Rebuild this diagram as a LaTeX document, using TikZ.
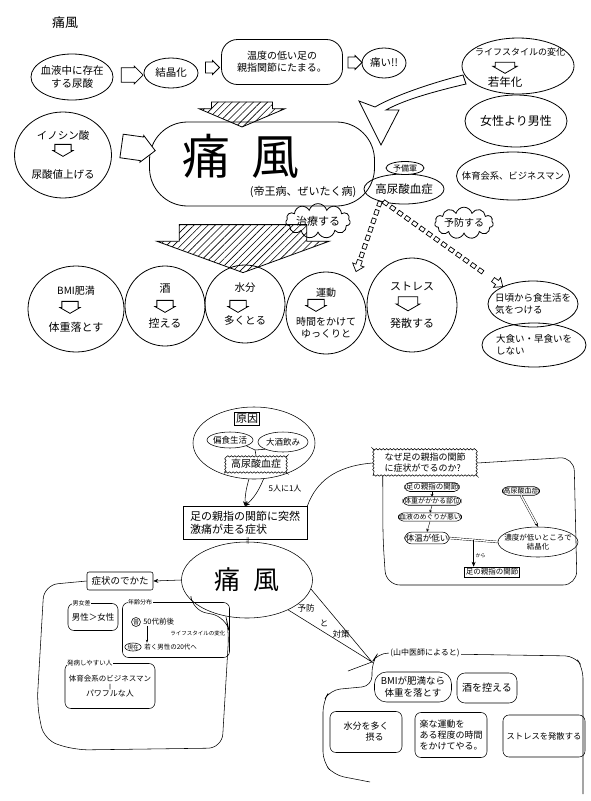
\documentclass[tikz,border=0pt]{standalone}
\usepackage{fontspec}
\setmainfont{Noto Sans CJK JP}
\usepackage{tikz}
\usetikzlibrary{positioning,arrows.meta,shapes.geometric,shapes.arrows,shapes.symbols,patterns.meta,decorations.markings,decorations.pathmorphing,calc}
\newcommand{\fsz}[1]{\fontsize{#1}{\fpeval{1.22*#1}}\selectfont}

\begin{document}
\begin{tikzpicture}[
  x=1pt, y=-1pt, line width=0.8pt, font=\fsz{10.5}, >=Stealth,
  bub/.style={draw, ellipse, inner xsep=-6pt, inner ysep=0pt, align=center},
  rbox/.style={draw, rounded corners=6pt, inner sep=1pt, align=center},
  pill/.style={draw, rounded corners=5pt, inner sep=1pt},
  openarr/.style={single arrow, draw, fill=white, inner sep=0pt, single arrow head extend=1pt},
  downarr/.style={openarr, rotate=-90, minimum height=12pt, minimum width=20pt, inner ysep=4pt, single arrow tip angle=120},
  hatcharr/.style={single arrow, draw, inner sep=0pt, rotate=-90, pattern={Lines[angle=45,distance=5pt,line width=0.6pt]}},
  talk/.style={cloud, draw, cloud puffs=11, aspect=2.8, inner sep=0pt},
  wavy/.style={draw, decorate, decoration={snake, amplitude=0.7pt, segment length=3.5pt}, inner sep=1.5pt, align=left},
  arr/.style={-{Stealth[length=5pt, width=4pt]}},
  dashchain/.style={decoration={markings,
    mark=between positions 0 and 0.86 step 9pt with {\draw[line width=0.7pt, fill=white] (-2.5pt,-2pt) rectangle (2.5pt,2pt);},
    mark=at position 1 with {\draw[line width=0.7pt, fill=white] (0pt,0pt) -- (-7pt,6pt) -- (-7pt,2.5pt) -- (-12pt,2.5pt) -- (-12pt,-2.5pt) -- (-7pt,-2.5pt) -- (-7pt,-6pt) -- cycle;}},
    decorate},
]
\useasboundingbox (0,0) rectangle (591,801);

\node[font=\fsz{13}] (title) at (65,23) {痛風};

% 上の図
\node[bub, minimum width=82pt, minimum height=46pt] (blood) at (72,77) {血液中に存在\\する尿酸};
\node[bub, minimum width=54pt, minimum height=30pt] (cryst) at (171,73) {結晶化};
\node[rbox, rounded corners=16pt, minimum width=121pt, minimum height=45pt, font=\fsz{10}] (warm) at (282,62) {温度の低い足の\\親指関節にたまる。};
\node[bub, minimum width=44pt, minimum height=30pt] (pain) at (384,63) {痛い!!};
\node[openarr, minimum height=22pt, minimum width=18pt, inner ysep=4pt] (a1) at ($(blood.east)!0.5!(cryst.west)$) {};
\node[openarr, minimum height=14pt, minimum width=14pt, inner ysep=3pt] (a2) at ($(cryst.east)!0.5!(warm.west)$) {};
\node[openarr, minimum height=14pt, minimum width=14pt, inner ysep=3pt] (a3) at ($(warm.east)!0.5!(pain.west)$) {};

\node[bub, minimum width=97pt, minimum height=86pt] (ino) at (63,155) {イノシン酸\\[26pt]尿酸値上げる};
\node[downarr] (inoarr) at ([yshift=7pt]ino.center) {};

\node[draw, rounded corners=38pt, minimum width=225pt, minimum height=84pt] (gout) at (262,164) {};
\node[font=\fsz{48}] (goutname) at (241,156) {痛\hspace{22pt}風};
\node[font=\fsz{11}] (goutsub) at (303,192) {(帝王病、ぜいたく病)};
\node[openarr, minimum height=34pt, minimum width=27pt, inner ysep=7pt, rotate=-8] (a4) at ($(ino.east)!0.5!(gout.west)+(2,-12)$) {};

\node[bub, minimum width=80pt, minimum height=30pt, font=\fsz{11.5}] (hyper) at (404,189) {高尿酸血症};
\node[bub, fill=white, minimum width=38pt, minimum height=13pt, font=\fsz{8}] (resv) at (405,168) {予備軍};

\node[bub, minimum width=112pt, minimum height=56pt] (life) at (518,66) {};
\node[font=\fsz{9}] (lifetop) at (520,52) {ライフスタイルの変化};
\node[downarr, minimum width=24pt, minimum height=11pt] (lifearr) at (505,65) {};
\node[font=\fsz{11.5}] (lifebot) at (505,82) {若年化};
\node[bub, minimum width=102pt, minimum height=52pt, font=\fsz{12}] (sexr) at (516,121) {女性より男性};
\node[bub, inner xsep=-20pt, minimum width=113pt, minimum height=48pt, font=\fsz{9.3}] (biz) at (513,176) {体育会系、ビジネスマン};

\draw[fill=white] (463,75) .. controls (428,84) and (394,96) .. (375,107) -- (359,101) -- (381,145) -- (399,110) -- (386,110) .. controls (404,100) and (432,92) .. (466,84) -- cycle;

\node[hatcharr, minimum height=25pt, minimum width=86pt, inner ysep=17pt, single arrow tip angle=134] (h1) at (242,108) {};
\node[hatcharr, minimum height=48pt, minimum width=172pt, inner ysep=20pt, single arrow tip angle=140] (h2) at (243,237) {};

\node[talk, font=\fsz{11}] (treat) at (318,221) {治療する};
\node[talk, font=\fsz{10}] (prev) at (464,223) {予防する};

\node[bub, minimum width=96pt, minimum height=86pt, font=\fsz{11}] (bmi) at (76,309) {{\fsz{10}BMI肥満}\\[24pt]体重落とす};
\node[downarr] (bmiarr) at ([xshift=-6pt, yshift=4pt]bmi.center) {};
\node[bub, minimum width=80pt, minimum height=80pt, font=\fsz{11}] (sake) at (165,306) {酒\\[22pt]控える};
\node[downarr] (sakearr) at ([yshift=2pt]sake.center) {};
\node[bub, minimum width=80pt, minimum height=78pt, font=\fsz{10.5}] (water) at (245,304) {水分\\[20pt]多くとる};
\node[downarr] (waterarr) at ([xshift=-7pt]water.center) {};
\node[bub, minimum width=80pt, minimum height=82pt, font=\fsz{10}] (exer) at (326,313) {運動\\[17pt]時間をかけて\\ゆっくりと};
\node[downarr] (exerarr) at ([xshift=-10pt, yshift=10pt]exer.center) {};
\node[bub, minimum width=90pt, minimum height=94pt, font=\fsz{11}] (stress) at (412,305) {ストレス\\[24pt]発散する};
\node[downarr, minimum width=24pt, minimum height=14pt] (stressarr) at ([xshift=-4pt, yshift=4pt]stress.center) {};

\node[bub, inner xsep=-10pt, minimum width=90pt, minimum height=46pt, font=\fsz{9.5}, align=left] (diet1) at (533,304) {日頃から食生活を\\気をつける};
\node[bub, inner xsep=-10pt, minimum width=104pt, minimum height=44pt, font=\fsz{9.5}, align=left] (diet2) at (534,345) {大食い・早食いを\\しない};

\draw[dashchain] ([xshift=4pt, yshift=-4pt]hyper.south west) -- ([xshift=30pt]exer.north);
\draw[dashchain] ([xshift=10pt, yshift=-3pt]hyper.south west) -- (diet1.150);

% 下の図
\begin{scope}[line width=0.55pt]
\node[draw, ellipse, minimum width=122pt, minimum height=72pt] (grp) at (254,443) {};
\node[draw, fill=white, font=\fsz{11}, inner sep=1.5pt] (cause) at (247,419) {原因};
\node[bub, inner xsep=-2pt, minimum width=46pt, minimum height=16pt, font=\fsz{8.5}] (diet) at (230,440) {偏食生活};
\node[bub, inner xsep=-2pt, minimum width=50pt, minimum height=20pt, font=\fsz{8.5}] (drink) at (283,442) {大酒飲み};
\coordinate (j) at (255,450);
\node[wavy, font=\fsz{10}, minimum width=62pt, minimum height=17pt] (hyp2) at (256,464) {高尿酸血症};
\draw (diet.south east) -- (j) -- (drink.south west) (j) -- (hyp2.north);

\node[draw, align=left, font=\fsz{11}, minimum width=124pt, minimum height=33pt, inner sep=2pt] (sym) at (245,523) {足の親指の関節に突然\\激痛が走る症状};
\draw[arr] (grp.262) to[bend right=8] (sym.north);
\draw[arr] (grp.285) to[bend left=12] (sym.north);
\node[font=\fsz{8}] (ratio) at (285,489) {5人に1人};
\node[font=\fsz{6}] (eq) at (248,541) {||};

\node[draw, ellipse, minimum width=131pt, minimum height=76pt, font=\fsz{26}] (gout2) at (247,580) {痛\hspace{14pt}風};
\node[draw, rounded corners=2pt, font=\fsz{9.5}, minimum width=66pt, minimum height=18pt, inner sep=1pt] (symp) at (120,581) {症状のでかた};
\draw[arr] (gout2.west) -- (symp.east);
\draw[rounded corners=14pt] (symp.west) -- (44,585) -- (37,705) -- (44,740) -- (75,750) -- (222,748) -- (229,630) -- (226,617) -- (192,610) -- (gout2.200);

\node[rbox, minimum width=50pt, minimum height=27pt, font=\fsz{8.5}] (sexd) at (93,617) {男性＞女性};
\node[fill=white, inner sep=0.5pt, font=\fsz{6}] (sexlbl) at ([xshift=14pt]sexd.north west) {男女差};
\node[rbox, minimum width=107pt, minimum height=55pt] (age) at (176,630) {};
\node[fill=white, inner sep=0.5pt, font=\fsz{6}] (agelbl) at ([xshift=18pt]age.north west) {年齢分布};
\node[draw, circle, inner sep=0.3pt, font=\fsz{6}] (past) at (136,622) {昔};
\node[anchor=west, inner sep=0pt, font=\fsz{7.5}] (pasttxt) at (143,622) {50代前後};
\node[anchor=west, inner sep=0pt, font=\fsz{5.5}] (lifetxt) at (170,633) {ライフスタイルの変化};
\node[draw, ellipse, inner sep=0.3pt, font=\fsz{5.5}] (now) at (133,647) {現在};
\node[anchor=west, inner sep=0pt, font=\fsz{6.5}] (nowtxt) at (144,647) {若く男性の20代へ};
\draw[-{Stealth[length=3pt]}] ([xshift=4pt]pasttxt.south west) -- ([xshift=3pt, yshift=1pt]nowtxt.north west);
\node[rbox, minimum width=90pt, minimum height=45pt, font=\fsz{7.5}] (prone) at (110,686) {体育会系のビジネスマン\\[-2pt]{\fsz{5}||}\\[-2pt]{\fsz{8}パワフルな人}};
\node[fill=white, inner sep=0.5pt, font=\fsz{6.5}] (pronelbl) at ([xshift=25pt]prone.north west) {発病しやすい人};

\node[wavy, fill=white, font=\fsz{9}, minimum width=104pt, minimum height=25pt] (why) at (425,463) {なぜ足の親指の関節\\に症状がでるのか?};
\draw[rounded corners=14pt] (why.east) -- (574,457) -- (577,585) -- (386,585) -- (383,540) -- ([xshift=10pt]why.south west);
\draw (sym.north east) .. controls (316,482) and (335,466) .. (why.west);
\node[pill, font=\fsz{7.5}] (foot) at (432,487) {足の親指の関節};
\node[pill, font=\fsz{7}] (load) at (432,501) {体重がかかる部位};
\node[pill, font=\fsz{6.8}] (flow) at (430,517) {血液のめぐりが悪い};
\node[pill, rounded corners=7pt, font=\fsz{8.5}, inner ysep=2pt] (temp) at (427,538) {体温が低い};
\node[pill, font=\fsz{7}] (hyp3) at (521,491) {高尿酸血症};
\node[bub, inner xsep=-7pt, minimum width=80pt, minimum height=30pt, font=\fsz{7.5}] (conc) at (538,542) {濃度が低いところで\\結晶化};
\node[draw, font=\fsz{7.5}, inner sep=1.5pt] (foot2) at (492,572) {足の親指の関節};
\draw[-{Stealth[length=2.5pt, width=3pt]}, line width=0.4pt] (foot.south) -- (load.north);
\draw[-{Stealth[length=2.5pt, width=3pt]}, line width=0.4pt] (load.south) -- (flow.north);
\draw[-{Stealth[length=3pt, width=3pt]}, line width=0.4pt] (flow.south) -- (temp.north);
\draw[double, double distance=1.4pt, line width=0.4pt] (temp.east) -- (conc.west);
\draw[double, double distance=1.4pt, line width=0.4pt, -{Stealth[length=4pt]}] (hyp3.south) -- (conc.north);
\coordinate (mid) at ($(temp.east)!0.5!(conc.west)$);
\draw[arr] (mid) -- (mid |- foot2.north);
\node[font=\fsz{5}] (kara) at ([xshift=7pt, yshift=-16pt]mid) {から};

\coordinate (wtip) at (372,662);
\draw (gout2.-8) -- (wtip) -- (gout2.-36);
\draw (wtip) -- ++(-24,9);
\node[font=\fsz{8.5}, inner sep=0pt] (wt1) at (306,608) {予防};
\node[font=\fsz{8.5}, inner sep=0pt] (wt2) at (324,623) {と};
\node[font=\fsz{8.5}, inner sep=0pt] (wt3) at (341,634) {対策};
\draw[rounded corners=10pt] (583,794) -- (583,668) -- (575,656) -- (378,653) -- (wtip) -- (372,686) -- (330,690) -- (323,702) -- (323,762) -- (334,775) -- (370,782);
\node[fill=white, inner sep=1pt, font=\fsz{8}] (doc) at (425,653) {(山中医師によると)};
\node[rbox, rounded corners=12pt, minimum width=77pt, minimum height=30pt, font=\fsz{9.5}] (bmi2) at (413,687) {BMIが肥満なら\\体重を落とす};
\node[rbox, rounded corners=8pt, minimum width=60pt, minimum height=30pt, font=\fsz{10}] (sake2) at (487,688) {酒を控える};
\node[rbox, minimum width=72pt, minimum height=41pt, font=\fsz{9}, align=left] (water2) at (366,732) {水分を多く\\\hspace*{22pt}摂る};
\node[rbox, minimum width=72pt, minimum height=45pt, font=\fsz{9}, align=left] (exer2) at (451,735) {楽な運動を\\ある程度の時間\\をかけてやる。};
\node[rbox, minimum width=82pt, minimum height=42pt, font=\fsz{8.3}] (stress2) at (544,736) {ストレスを発散する};
\end{scope}
\end{tikzpicture}
\end{document}
